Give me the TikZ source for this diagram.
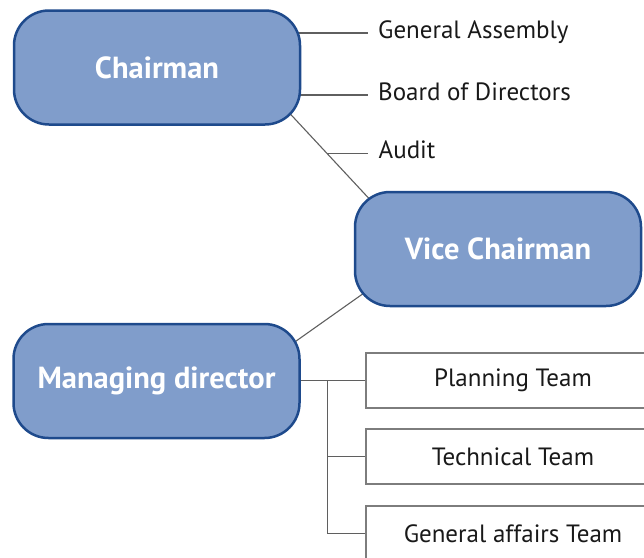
\documentclass[tikz,border=0pt]{standalone}
\usepackage{fontspec}
\setmainfont{PT Sans}
\usepackage{tikz}
\usetikzlibrary{calc}
\usetikzlibrary{backgrounds}
\definecolor{postfill}{RGB}{128,157,203}
\definecolor{postedge}{RGB}{30,74,140}
\definecolor{wiregray}{RGB}{95,95,95}
\definecolor{teamgray}{RGB}{125,125,125}

\begin{document}
\begin{tikzpicture}[x=1pt, y=-1pt, font=\fontsize{25}{29}\selectfont,
    post/.style={draw=postedge, line width=2.5pt, fill=postfill,
      rounded corners=35pt, text=white, inner sep=0pt,
      font=\fontsize{30.5}{34}\selectfont\bfseries,
      minimum width=286pt, minimum height=114pt},
    duty/.style={anchor=west, inner xsep=10pt, inner ysep=0pt,
      text height=12pt, text depth=2pt, text=black!90},
    team/.style={draw=teamgray, line width=1.2pt, inner sep=0pt,
      minimum width=294pt, minimum height=55pt, text=black!90},
    wire/.style={draw=wiregray, line width=1.1pt}]
    \useasboundingbox (0,0) rectangle (644,557);
    \clip (0,0) rectangle (644,557);
    % the three posts
    \node[post] (chair) at (157,67.5) {Chairman};
    \node[post] (vice)  at (498,249)  {Vice Chairman};
    \node[post] (md)    at (156.5,381) {Managing director};
    % helper points for the slanted links
    \coordinate (ctop) at (chair.south east);
    \coordinate (vtop) at ([xshift=8pt]vice.north west);
    \coordinate (tap)  at ($(ctop)!0.433!(vtop)$);
    \coordinate (vlow) at ([yshift=7pt]vice.south west);
    \coordinate (mtop) at ([yshift=-15pt]md.north east);
    % duties of the chairman
    \node[duty] (ga)    at (368,33) {General Assembly};
    \node[duty] (bod)   at (368,95) {Board of Directors};
    \node[duty] (audit) at ([xshift=41pt]tap) {Audit};
    % teams under the managing director
    \node[team] (plan) at (513,380.5) {Planning Team};
    \node[team] (tech) at (513,456.5) {Technical Team};
    \node[team] (gen)  at (513,533.5) {General affairs Team};
    \coordinate (fork) at ($(md.east)!0.41!(plan.west)$);
    \begin{scope}[on background layer]
      \draw[wire] (chair.center |- ga.west) -- (ga.west);
      \draw[wire] (chair.center |- bod.west) -- (bod.west);
      \draw[wire] ($(ctop)!-0.25!(vtop)$) -- ($(vtop)!-0.25!(ctop)$);
      \draw[wire] (tap) -- (audit.west);
      \draw[wire] ($(vlow)!-0.25!(mtop)$) -- ($(mtop)!-0.25!(vlow)$);
      \draw[wire] (md.center |- plan.west) -- (plan.west);
      \draw[wire] (fork) |- (tech.west);
      \draw[wire] (fork) |- (gen.west);
    \end{scope}
  \end{tikzpicture}
\end{document}
